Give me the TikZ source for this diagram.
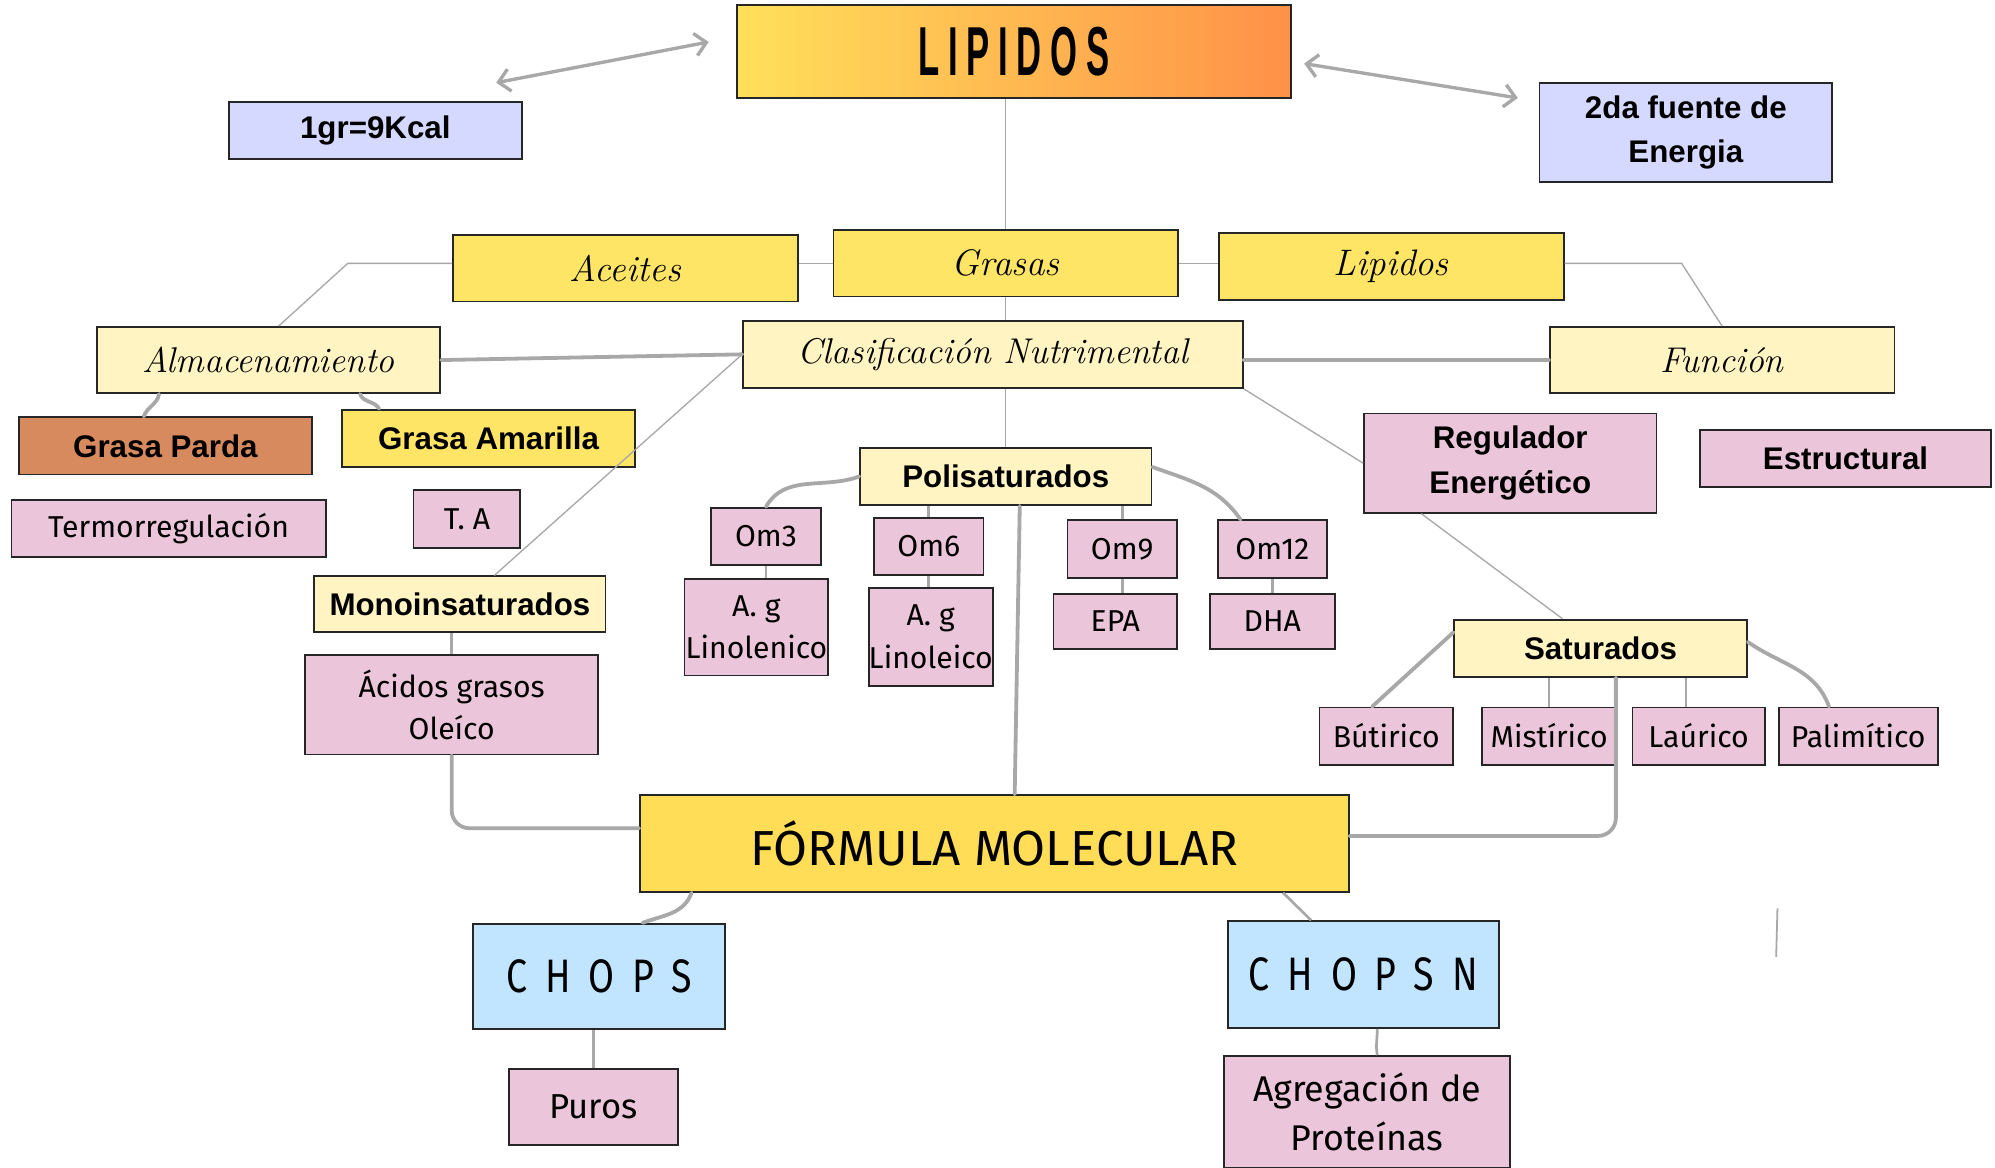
\documentclass[tikz,border=0pt]{standalone}
\usepackage{fontspec}
\usetikzlibrary{arrows.meta}

\newfontfamily\titlefont{Liberation Sans}[FakeStretch=0.5,LetterSpace=12.5]
\newfontfamily\boldsans{Liberation Sans}
\newfontfamily\labelsans{Fira Sans}
\newfontfamily\spacedsans{Fira Sans}[FakeStretch=0.8,LetterSpace=38]

\definecolor{lipyellow}{HTML}{FFE05A}
\definecolor{liporange}{HTML}{FF9148}
\definecolor{lavfill}{HTML}{D6D9FF}
\definecolor{yelfill}{HTML}{FFE566}
\definecolor{palefill}{HTML}{FFF4C2}
\definecolor{brownfill}{HTML}{D68A5E}
\definecolor{pinkfill}{HTML}{EBC6DA}
\definecolor{formfill}{HTML}{FFDD57}
\definecolor{bluefill}{HTML}{C2E5FF}
\definecolor{linegray}{HTML}{A8A8A8}

\tikzset{
  box/.style={draw=black!85, line width=0.8pt, inner sep=0pt, align=center},
  titlebox/.style={box, left color=lipyellow, right color=liporange,
    font=\titlefont\bfseries\fontsize{31}{33}\selectfont},
  infobox/.style={box, fill=lavfill, font=\boldsans\bfseries\fontsize{14}{19.5}\selectfont},
  groupbox/.style={box, fill=yelfill, font=\itshape\fontsize{16.5}{18}\selectfont},
  subbox/.style={box, fill=palefill, font=\itshape\fontsize{16}{18}\selectfont},
  kindbox/.style={box, fill=palefill, font=\boldsans\bfseries\fontsize{14}{19.5}\selectfont},
  pinkbold/.style={box, fill=pinkfill, font=\boldsans\bfseries\fontsize{14}{20}\selectfont},
  pinknote/.style={box, fill=pinkfill, font=\labelsans\fontsize{13.5}{19}\selectfont},
  chembox/.style={box, fill=bluefill, font=\spacedsans\fontsize{21}{24}\selectfont},
  thinline/.style={draw=linegray, line width=0.6pt},
  stemline/.style={draw=linegray, line width=1.2pt},
  thickline/.style={draw=linegray, line width=1.7pt, line cap=round},
  arrowline/.style={draw=linegray, line width=1.5pt,
    {Straight Barb[length=5pt,width=10pt]}-{Straight Barb[length=5pt,width=10pt]}}
}

\begin{document}
\begin{tikzpicture}[x=0.02cm, y=-0.02cm]
  \useasboundingbox (0,0) rectangle (1568,918);

  \node[titlebox, minimum width=8.72cm, minimum height=1.46cm] (lipidos) at (797,40.5) {LIPIDOS};
  \node[infobox, minimum width=4.6cm, minimum height=0.9cm] (kcal) at (295,102.5) {1gr=9Kcal};
  \node[infobox, minimum width=4.6cm, minimum height=1.56cm] (energia) at (1325,104) {2da fuente de\\Energia};

  \node[groupbox, minimum width=5.42cm, minimum height=1.04cm] (aceites) at (491.5,211) {Aceites};
  \node[groupbox, minimum width=5.42cm, minimum height=1.04cm] (grasas) at (790.5,207) {Grasas};
  \node[groupbox, minimum width=5.42cm, minimum height=1.06cm] (lipid2) at (1093.5,209.5) {Lipidos};

  \node[subbox, minimum width=5.4cm, minimum height=1.04cm] (almac) at (211,283) {Almacenamiento};
  \node[subbox, minimum width=7.86cm, minimum height=1.06cm] (clasif) at (780.5,278.5) {Clasificación Nutrimental};
  \node[subbox, minimum width=5.42cm, minimum height=1.04cm] (funcion) at (1353.5,283) {Función};

  \node[kindbox, fill=brownfill, minimum width=4.6cm, minimum height=0.9cm] (parda) at (130,350.5) {Grasa Parda};
  \node[kindbox, fill=yelfill, minimum width=4.6cm, minimum height=0.9cm] (amarilla) at (384,344.5) {Grasa Amarilla};
  \node[pinknote, minimum width=4.94cm, minimum height=0.9cm] (termo) at (132.5,415.5) {Termorregulación};
  \node[pinknote, minimum width=1.68cm, minimum height=0.92cm] (ta) at (367,408) {T. A};

  \node[kindbox, minimum width=4.58cm, minimum height=0.88cm] (mono) at (361.5,475) {Monoinsaturados};
  \node[pinknote, minimum width=4.6cm, minimum height=1.56cm] (acidos) at (355,554) {Ácidos grasos\\Oleíco};

  \node[kindbox, minimum width=4.58cm, minimum height=0.9cm] (poli) at (790.5,374.5) {Polisaturados};
  \node[pinknote, minimum width=1.72cm, minimum height=0.9cm] (om3) at (602,421.5) {Om3};
  \node[pinknote, minimum width=2.26cm, minimum height=1.52cm] (aglen) at (594.5,493) {A. g\\Linolenico};
  \node[pinknote, minimum width=1.72cm, minimum height=0.9cm] (om6) at (730,429.5) {Om6};
  \node[pinknote, minimum width=1.94cm, minimum height=1.54cm] (agleic) at (731.5,500.5) {A. g\\Linoleico};
  \node[pinknote, minimum width=1.72cm, minimum height=0.9cm] (om9) at (882,431.5) {Om9};
  \node[pinknote, minimum width=1.94cm, minimum height=0.86cm] (epa) at (876.5,488.5) {EPA};
  \node[pinknote, minimum width=1.72cm, minimum height=0.9cm] (om12) at (1000,431.5) {Om12};
  \node[pinknote, minimum width=1.96cm, minimum height=0.86cm] (dha) at (1000,488.5) {DHA};

  \node[pinkbold, minimum width=4.6cm, minimum height=1.56cm] (regul) at (1187,364) {Regulador\\Energético};
  \node[pinkbold, minimum width=4.58cm, minimum height=0.9cm] (estruct) at (1450.5,360.5) {Estructural};

  \node[kindbox, minimum width=4.6cm, minimum height=0.9cm] (satur) at (1258,509.5) {Saturados};
  \node[pinknote, minimum width=2.1cm, minimum height=0.9cm] (butir) at (1089.5,578.5) {Bútirico};
  \node[pinknote, minimum width=2.1cm, minimum height=0.9cm] (mistir) at (1217.5,578.5) {Mistírico};
  \node[pinknote, minimum width=2.08cm, minimum height=0.9cm] (laur) at (1335,578.5) {Laúrico};
  \node[pinknote, minimum width=2.5cm, minimum height=0.9cm] (palim) at (1460.5,578.5) {Palimítico};

  \node[box, fill=formfill, font=\labelsans\fontsize{22}{24}\selectfont,
    minimum width=11.14cm, minimum height=1.52cm] (formula) at (781.5,663) {FÓRMULA MOLECULAR};
  \node[chembox, minimum width=3.96cm, minimum height=1.66cm] (chops) at (471,767.5) {CHOPS};
  \node[chembox, minimum width=4.26cm, minimum height=1.68cm] (chopsn) at (1071.5,766) {CHOPSN};
  \node[pinknote, font=\labelsans\fontsize{15.5}{20}\selectfont,
    minimum width=2.66cm, minimum height=1.2cm] (puros) at (466.5,870) {Puros};
  \node[pinknote, font=\labelsans\fontsize{16}{22}\selectfont,
    minimum width=4.5cm, minimum height=1.76cm] (agreg) at (1074.5,874) {Agregación de\\Proteínas};

  \coordinate (kcalend) at (390,65);
  \coordinate (lipleft) at (557,33);
  \coordinate (lipright) at (1025,50);
  \coordinate (energiaend) at (1193,77);
  \coordinate (formleft) at ([yshift=0.24cm]formula.west);
  \coordinate (formright) at ([yshift=0.12cm]formula.east);
  \coordinate (saturdrop) at ([xshift=0.24cm]satur.south);
  \draw[arrowline] (kcalend) -- (lipleft);
  \draw[arrowline] (lipright) -- (energiaend);

  \draw[thinline] (grasas.north) -- (grasas.north |- lipidos.south);
  \draw[thinline] (grasas.west) -- (grasas.west -| aceites.east);
  \draw[thinline] (grasas.east) -- (grasas.east -| lipid2.west);
  \draw[thinline] (grasas.west -| aceites.west) -- ++(-82,0) -- ([xshift=0.16cm]almac.north);
  \draw[thinline] (grasas.east -| lipid2.east) -- ++(92,0) -- (funcion.north);
  \draw[thinline] (grasas.south) -- (grasas.south |- clasif.north);
  \draw[thickline] (almac.east) -- (clasif.west);
  \draw[thickline] (funcion.west -| clasif.east) -- (funcion.west);
  \draw[thinline] (clasif.west) -- ([xshift=0.54cm]mono.north);
  \draw[thinline] (poli.north) -- (poli.north |- clasif.south);
  \draw[thinline] (clasif.south east) -- (regul.west);
  \draw[thinline] ([xshift=-1.4cm]regul.south) -- ([xshift=-0.6cm]satur.north);

  \draw[thickline] ([xshift=-1.72cm]almac.south) to[out=-100,in=70] ([xshift=-0.34cm]parda.north);
  \draw[thickline] ([xshift=1.44cm]almac.south) to[out=-70,in=120] ([xshift=-1.72cm]amarilla.north);

  \draw[stemline] (acidos.north) -- (acidos.north |- mono.south);
  \draw[thickline, rounded corners=8pt] (acidos.south) -- (acidos.south |- formleft) -- (formleft);
  \draw[thickline] ([xshift=0.22cm]poli.south) -- ([xshift=0.32cm]formula.north);

  \draw[thickline] (poli.west) to[out=200,in=60] (om3.north);
  \draw[stemline] (om6.north) -- (om6.north |- poli.south);
  \draw[stemline] (om9.north) -- (om9.north |- poli.south);
  \draw[thickline] ([yshift=0.15cm]poli.east) to[out=-20,in=125] ([xshift=-0.5cm]om12.north);
  \draw[stemline] (om3.south) -- (om3.south |- aglen.north);
  \draw[stemline] (om6.south) -- (om6.south |- agleic.north);
  \draw[stemline] (om9.south) -- (om9.south |- epa.north);
  \draw[stemline] (om12.south) -- (dha.north);

  \draw[thickline, rounded corners=8pt] (saturdrop) -- (saturdrop |- formright) -- (formright);
  \draw[thickline] ([yshift=0.25cm]satur.west) -- ([xshift=-0.22cm]butir.north);
  \draw[stemline] (mistir.north) -- (mistir.north |- satur.south);
  \draw[stemline] ([xshift=-0.2cm]laur.north) -- ([xshift=-0.2cm]laur.north |- satur.south);
  \draw[thickline] ([yshift=0.1cm]satur.east) to[out=-35,in=110] ([xshift=-0.46cm]palim.north);

  \draw[thickline] ([xshift=-4.76cm]formula.south) to[out=-110,in=20] ([xshift=0.68cm]chops.north);
  \draw[stemline] ([xshift=4.54cm]formula.south) -- ([xshift=-0.82cm]chopsn.north);
  \draw[stemline] (puros.north) -- (puros.north |- chops.south);
  \draw[stemline] ([xshift=0.16cm]agreg.north) to[out=100,in=-90] ([xshift=0.16cm]agreg.north |- chopsn.south);

  \coordinate (markA) at (1397,714);
  \coordinate (markB) at (1396,752);
  \draw[thinline, line width=0.8pt] (markA) -- (markB);
\end{tikzpicture}
\end{document}
